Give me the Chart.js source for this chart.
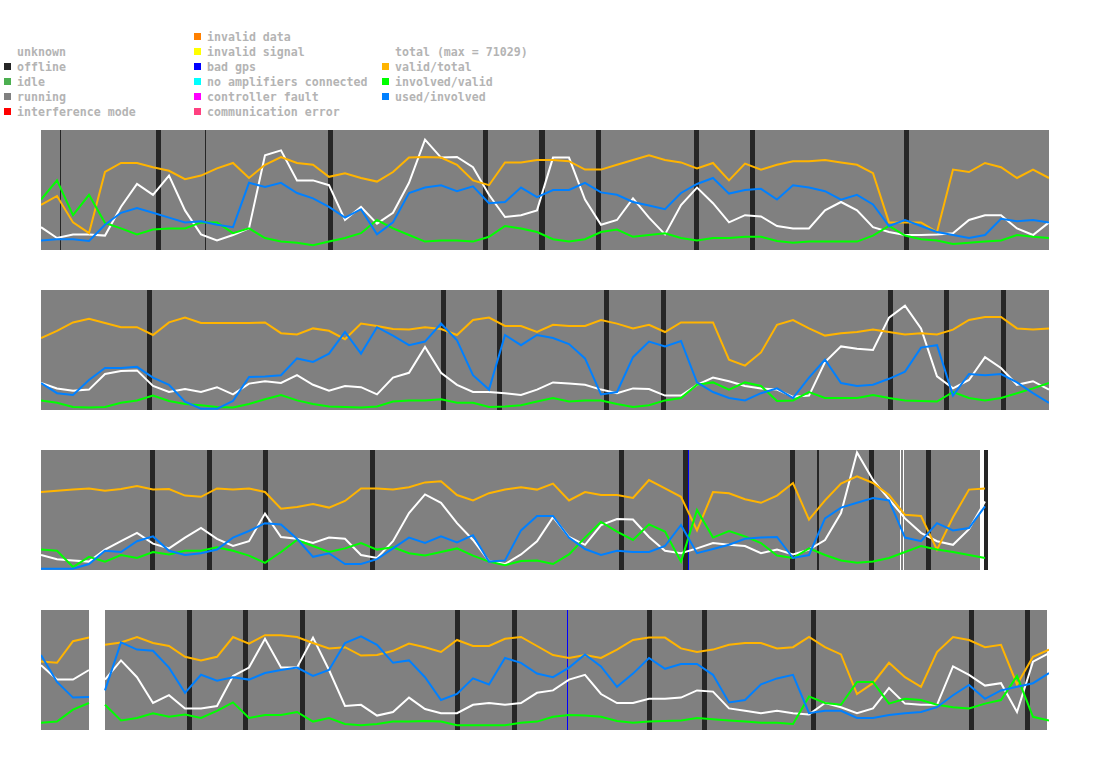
<!DOCTYPE html>
<html>
<head>
<meta charset="utf-8">
<script src="https://cdn.jsdelivr.net/npm/chart.js@4.4.1/dist/chart.umd.min.js"></script>
<style>
  body { margin: 0; background: #fff; width: 1095px; height: 764px; position: relative; overflow: hidden; }
  .leg { position: absolute; font: bold 11.6px "DejaVu Sans Mono", monospace; color: #b4b4b4; line-height: 15px; white-space: pre; }
  .sw { position: absolute; width: 7px; height: 7px; }
  canvas { position: absolute; left: 41px; }
</style>
</head>
<body>
<div id="legend"></div>
<canvas id="row1" width="1008" height="120" style="top:130px"></canvas>
<canvas id="row2" width="1008" height="120" style="top:290px"></canvas>
<canvas id="row3" width="1008" height="120" style="top:450px"></canvas>
<canvas id="row4" width="1008" height="120" style="top:610px"></canvas>
<script>
// ---- time axis: one row = 1008 slots, samples every 16 slots ----
const ROW_SLOTS = 1008;
const SLOT_STEP = 16;
const TOTAL_MAX = 71029;

// ---- row 1 ----
const row1Total = [19,10,13,13,12,36,55,46,62,33,13,8,12.5,18,79,83,58,58,54,25,36,22,31,56,92,77,77.5,69,46,27.5,29,33,77,77,42,21,25,43,27,13,37.5,52,39,23,29,28,20,18,18,33,40,33,19,15,12.5,12.5,13,14,25,29,29,18,12.5,23];
const row1Valid = [37.5,45,23,14,65,72.5,72.5,69,66,59,62,68,72.5,60,71,77.5,72.5,71,61,64,60,57,65,77,77.5,77,71,58,54,73,73,75,75,74,67,67,71,75,79,75,73,68,72.5,58,72,67,71,74,74,75,73,71,64,23,23,23,15,67,65,72.5,69,60,67,60];
const row1Involved = [42,58,29,46,22.5,18,13,17,18,18,23,23,14,18,10,7,6,4,7,10,14,25,18,12.5,7,8,8,7,11,20,18,15,9,7,9,15,17,11,12.5,14,10,8,10,10,11,11,7.5,6,7,7,7,7,12,20,12,9,8,5,6,7,8,12.5,11,10];
const row1Used = [8,9,9,7.5,21,31,35,31,27,23,24,21,19,56,52.5,56,47.5,43,36,27,34,13,23,47.5,52,54,49,53,39,40,52,44,50,50,56,48,46,40,37,34,47.5,55,60,47,50,51,42,54,52,49,42,46,38,20,25,20,15,12.5,10,12.5,26,24,25,23];
const row1Running = [[0,1008]];
const row1Offline = [[19,20],[115,120],[164,165],[287,292],[442,447],[498,504],[555,560],[653,658],[709,714],[863,868]];
const row1BadGps = [];

// ---- row 2 ----
const row2Total = [22.5,18,16,17,30,32.5,33,20,15,17.5,15,19,13,22,24,22.5,29,21,16,20,19,13,27,31,52.5,31,21,15,15,14,12.5,17,23,22,21,17,14,18,17.5,12,12,21,27,24,20,18,17,11,12,40,53,51,50,77,87,68,28,18,25,44,35,21,24,17];
const row2Valid = [60,66,73,76,72.5,69,69,62.5,73,77,72.5,72.5,72.5,72.5,73,64,63,68,66,59,72,70,67.5,67,69,67.5,62.5,75,77,70,70,65,71,70,70,75,72,68,71,65,73,73,73,42,37,48,71,75,68,62,64,65,67,65,63,64,63,67,75,77.5,77.5,68,67,68];
const row2Involved = [8,6,2.5,2,2.5,6,8,12,7.5,5,4,2.5,2,5,9,12.5,8,5,3,2.5,2,3,7,8,8,9,6,6,2.5,3,4,7,10,7,8,8,5,2.5,4,8,10,21,23,17,23,20,7.5,8,15,10,10,10,12.5,10,8,7.5,7,15,10,8,10,14,18,22.5];
const row2Used = [22.5,14,12.5,25,35,35,36,27,21,7,1,1,7.5,27.5,28,29,43,40,47,65,47,69,62,54,57,72,58,29,17,62.5,54,62.5,60,55,43,13,15,44,57,53,57.5,23,15,10,8,14,18,10,27,42,22.5,20,21,26,32,52,54,12,30,29,30,23,14,6];
const row2Running = [[0,1008]];
const row2Offline = [[106,111],[400,405],[456,461],[563,568],[620,625],[847,852],[903,908],[960,965]];
const row2BadGps = [];

// ---- row 3 (data stops at slot 947) ----
const row3Total = [12.5,9,8,7,17,24,31,22,18,27,35,26,20,24,47,27.5,26,22.5,27,26,12.5,10,24,47.5,63,56,39,25,7.5,5,13,24,44,27.5,21,37.5,42.5,42,27.5,16,14,18,22.5,21,20,14,17,13,17,25,47.5,98,75,59,43,31,24,21,34,57];
const row3Valid = [65,66,67,68,66,67.5,70,67,67.5,62,61,68,67,68,65,51,52.5,55,52,57.5,68,68,67,69,73,74,62.5,58,64,67,69,67,72,58,65,62.5,62.5,60,75,68,61,33,65,64,59,56,62,72.5,42,58,72,78,72.5,62.5,46,45,17,44,67,68];
const row3Involved = [17,16,2.5,11,7,12.5,10,15,13,16,16,19,16,12,6,15,25,20,15,18,22.5,17,19,14,12,15,18,12,7,4,7.5,8,5,13,27,40,32,25,38,32,7,50,27,32.5,28,22.5,12,10,18,12.5,8,6,7,10,15,20,17,15,12.5,10];
const row3Used = [1,1,1,5,16,15,24,28,16,12.5,14,17,27,32.5,39,38,26,11,14,5,5,9,18,27,22.5,28,23,29,7,8,33,45,45,27,17.5,12.5,16,15,15,20,37.5,14,17.5,21,26,27,27.5,10,12.5,43,52,56,60,58,27,24,39,33,35,53];
const row3Running = [[0,859],[860,862],[863,939]];
const row3Offline = [[109,114],[166,171],[222,227],[329,334],[578,583],[642,647],[749,754],[776,778],[828,833],[885,890],[943,947]];
const row3BadGps = [[647,648]];

// ---- row 4 (no data between slots 48 and 64) ----
const row4Total = [54,42,42,50,42,58,44,22.5,29,18,18,20,45,52,76,52,52,77,50,20,21,12,15,27,17.5,14,14,21,22.5,21,22.5,31,33,42,46,30,22.5,22.5,26,26,27,33,32,18,16,14,16,14,13,22.5,19,14,18,35,22,21,21,53,46,37,39,15,57,64];
const row4Valid = [57,56,74,77,71,73,77.5,72.5,70,61,58,61,77.5,72,79,79,77.5,72.5,68,69,62,62.5,66,72,69,65,75,70,70,76,77.5,70,62.5,60,62.5,60,67,75,77,77,68,65,67,71,72.5,72.5,68,69,77.5,69,63,30,39,56,44,36,65,77.5,75,69,71,38,61,67];
const row4Involved = [6,7,17,22.5,21,8,10,14,11,13,10,16,23,10,12.5,12.5,15,7,10,5,4,5,7,7,7.5,7,4,4,4,4,6,7,11,12.5,12,11,7.5,6,7,7.5,8,10,9,8,7,6,6,5,28,22.5,21,40,40,22,26,25,21,19,18,22,25,45,11,8];
const row4Used = [62.5,40,27,27.5,33,73,67,66,52,31,46,41,44,42,47.5,50,52,45,50,72.5,78,71,56,58,44,25,30,43,38,60,56,47,44,52,63,53,36,47,60,51,55,55,46,23,25,38,43,46,14,16,16,10,10,12.5,14,15,19,29,37.5,26,33,36,39,47.5];
const row4Running = [[0,48],[64,1006]];
const row4Offline = [[146,151],[202,207],[259,264],[414,419],[471,476],[606,611],[661,666],[770,775],[928,933],[984,989]];
const row4BadGps = [[526,527]];

// ---- legend ----
const stateNames = ["unknown", "offline", "idle", "running", "interference mode"];
const stateColors = [null, "#262626", "#4caf50", "#808080", "#ff0000"];
const faultNames = ["invalid data", "invalid signal", "bad gps", "no amplifiers connected", "controller fault", "communication error"];
const faultColors = ["#ff8000", "#ffff00", "#0000ff", "#00ffff", "#ff00ff", "#ff4080"];
const seriesNames = ["total (max = " + TOTAL_MAX + ")", "valid/total", "involved/valid", "used/involved"];
const seriesColors = ["#ffffff", "#ffb400", "#00ff00", "#0080ff"];

function legendColumn(names, colors, swatchX, firstCenter) {
  let html = "";
  names.forEach((name, i) => {
    const cy = firstCenter + i * 15;
    if (colors[i] && colors[i] !== "#ffffff") {
      html += `<div class="sw" style="left:${swatchX}px;top:${cy - 4}px;background:${colors[i]}"></div>`;
    }
    html += `<div class="leg" style="left:${swatchX + 13}px;top:${cy - 7}px">${name}</div>`;
  });
  return html;
}
document.getElementById("legend").innerHTML =
  legendColumn(stateNames, stateColors, 4, 52) +
  legendColumn(faultNames, faultColors, 194, 37) +
  legendColumn(seriesNames, seriesColors, 382, 52);

// ---- state background, drawn through the x scale ----
const stateBands = {
  id: "stateBands",
  beforeDatasetsDraw(chart, args, opts) {
    const { ctx, chartArea, scales: { x } } = chart;
    ctx.save();
    opts.bands.forEach(band => {
      ctx.fillStyle = band.color;
      band.spans.forEach(([s, e]) => {
        const x0 = Math.round(x.getPixelForValue(s));
        const x1 = Math.max(x0 + 1, Math.round(x.getPixelForValue(e)));
        ctx.fillRect(x0, chartArea.top, x1 - x0, chartArea.bottom - chartArea.top);
      });
    });
    ctx.restore();
  }
};

// samples -> {x,y}; break the line where a no-data span sits between two samples
function toPoints(values, running) {
  const pts = [];
  values.forEach((v, i) => {
    const xv = i * SLOT_STEP;
    if (pts.length) {
      const prev = pts[pts.length - 1].x;
      for (let k = 0; k < running.length - 1; k++) {
        const gapStart = running[k][1], gapEnd = running[k + 1][0];
        if (gapEnd - gapStart > 8 && gapStart >= prev && gapEnd <= xv) {
          pts.push({ x: (gapStart + gapEnd) / 2, y: null });
        }
      }
    }
    pts.push({ x: xv, y: v });
  });
  return pts;
}

function drawRow(id, total, valid, involved, used, running, offline, badGps) {
  const series = [total, valid, involved, used];
  new Chart(document.getElementById(id).getContext("2d"), {
    type: "line",
    data: {
      datasets: series.map((vals, i) => ({
        label: seriesNames[i],
        data: toPoints(vals, running),
        borderColor: seriesColors[i],
        borderWidth: 2,
        pointRadius: 0,
        tension: 0,
        spanGaps: false,
        order: 3 - i
      }))
    },
    options: {
      responsive: false,
      animation: false,
      events: [],
      layout: { padding: 0 },
      plugins: {
        legend: { display: false },
        tooltip: { enabled: false },
        stateBands: {
          bands: [
            { color: "#808080", spans: running },
            { color: "#262626", spans: offline },
            { color: "#0000ff", spans: badGps }
          ]
        }
      },
      scales: {
        x: { type: "linear", min: 0, max: ROW_SLOTS, display: false },
        y: { min: 0, max: 100, display: false }
      }
    },
    plugins: [stateBands]
  });
}

drawRow("row1", row1Total, row1Valid, row1Involved, row1Used, row1Running, row1Offline, row1BadGps);
drawRow("row2", row2Total, row2Valid, row2Involved, row2Used, row2Running, row2Offline, row2BadGps);
drawRow("row3", row3Total, row3Valid, row3Involved, row3Used, row3Running, row3Offline, row3BadGps);
drawRow("row4", row4Total, row4Valid, row4Involved, row4Used, row4Running, row4Offline, row4BadGps);
</script>
</body>
</html>
